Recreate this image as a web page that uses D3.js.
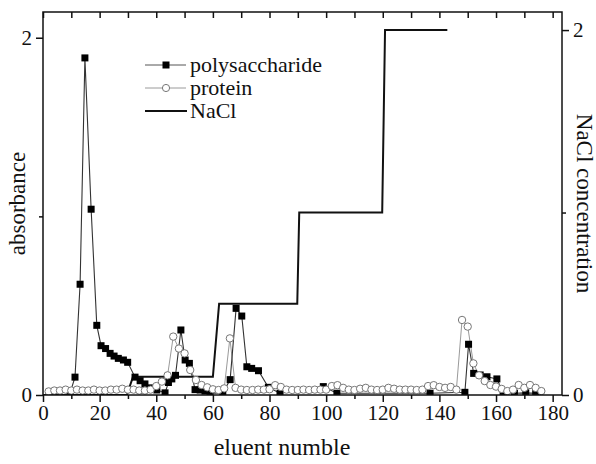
<!DOCTYPE html>
<html>
<head>
<meta charset="utf-8">
<script src="https://d3js.org/d3.v7.min.js"></script>
</head>
<body style="margin:0">
<div id="chart"></div>
<script>
// polysaccharide (filled squares), absorbance
const polyX = [9.5, 11.3, 13.1, 14.8, 17, 19, 20.5, 22.1, 23.7, 25.1, 26.6, 28.4, 29.9, 32.5, 34.3, 36, 37.8, 40.2, 43.1,
  44.3, 45.5, 46.8, 48.7, 50.2, 51.7, 53.7, 55.5, 57.2, 59, 63.5, 66.1, 68.2, 70.2, 72, 73.7, 76.1, 79.6, 83.7,
  99, 103.8, 136.7, 149, 150.3, 152.1, 154.4, 156.8, 160.3, 162.5, 166.5, 170.5, 174];
const polyY = [0.008, 0.10, 0.62, 1.887, 1.04, 0.39, 0.276, 0.26, 0.233, 0.218, 0.205, 0.196, 0.183, 0.10, 0.08, 0.062, 0.04, 0.028, 0.012,
  0.07, 0.09, 0.11, 0.364, 0.196, 0.177, 0.03, 0.028, 0.022, 0.01, 0.01, 0.086, 0.485, 0.442, 0.158, 0.149, 0.136, 0.043, 0.01,
  0.047, 0.01, 0.01, 0.015, 0.284, 0.121, 0.112, 0.102, 0.09, 0.015, 0.01, 0.012, 0.01];

// protein (open circles), absorbance
const protX = [2, 4, 6, 8, 10, 12, 14, 16, 18, 20, 22, 24, 26, 28, 30, 32, 34, 36, 38, 40, 42, 44, 46, 48, 50, 52, 54, 56, 58, 60,
  62, 64, 66, 68, 70, 72, 74, 76, 78, 80, 82, 84, 86, 88, 90, 92, 94, 96, 98, 100, 102, 104, 106, 108, 110, 112, 114, 116, 118, 120,
  122, 124, 126, 128, 130, 132, 134, 136, 138, 140, 142, 144, 146, 148, 150, 152, 154, 156, 158, 160, 162, 164, 166, 168, 170, 172, 174, 176];
const protY = [0.02, 0.025, 0.025, 0.03, 0.025, 0.03, 0.025, 0.025, 0.03, 0.025, 0.025, 0.03, 0.03, 0.035, 0.03, 0.03, 0.025, 0.025, 0.03, 0.05,
  0.075, 0.11, 0.327, 0.26, 0.233, 0.14, 0.084, 0.056, 0.043, 0.032, 0.028, 0.037, 0.317, 0.04, 0.03, 0.028, 0.028, 0.03, 0.03, 0.032,
  0.055, 0.045, 0.03, 0.028, 0.028, 0.03, 0.028, 0.03, 0.03, 0.03, 0.05, 0.055, 0.04, 0.03, 0.028, 0.035, 0.04, 0.03, 0.028, 0.03,
  0.04, 0.035, 0.03, 0.03, 0.03, 0.028, 0.03, 0.05, 0.055, 0.045, 0.04, 0.045, 0.03, 0.42, 0.383, 0.177, 0.11, 0.078, 0.056, 0.047,
  0.034, 0.022, 0.03, 0.056, 0.04, 0.056, 0.04, 0.022];

// NaCl gradient, right axis
const naclX = [0, 29.6, 31.8, 60, 62.2, 89.8, 90.5, 119.8, 120.8, 142.8];
const naclY = [0, 0, 0.1, 0.1, 0.5, 0.5, 1.0, 1.0, 2.0, 2.0];

const xTicks = [0, 20, 40, 60, 80, 100, 120, 140, 160, 180];
const xMinorTicks = [10, 30, 50, 70, 90, 110, 130, 150, 170];
const yTicks = [0, 2];
const yMinorTicks = [1];

const FONT = 'Liberation Serif';

const width = 596, height = 464;
const mLeft = 43, mRight = 562, mTop = 12, mBottom = 395;

const x = d3.scaleLinear().domain([0, 183.3]).range([mLeft, mRight]);
const yL = d3.scaleLinear().domain([0, 2.144]).range([mBottom, mTop]);
const yR = d3.scaleLinear().domain([0, 2.099]).range([mBottom, mTop]);

const svg = d3.select('#chart').append('svg')
  .attr('width', width).attr('height', height)
  .attr('font-family', FONT);

svg.append('clipPath').attr('id', 'clip')
  .append('rect').attr('x', mLeft).attr('y', mTop)
  .attr('width', mRight - mLeft).attr('height', mBottom - mTop);

const plot = svg.append('g').attr('clip-path', 'url(#clip)');

const poly = polyX.map((d, i) => ({x: d, y: polyY[i]}));
const prot = protX.map((d, i) => ({x: d, y: protY[i]}));
const nacl = naclX.map((d, i) => ({x: d, y: naclY[i]}));

// lines
plot.append('path').datum(prot)
  .attr('fill', 'none').attr('stroke', '#9a9a9a').attr('stroke-width', 1)
  .attr('d', d3.line().x(d => x(d.x)).y(d => yL(d.y)));

plot.append('path').datum(poly)
  .attr('fill', 'none').attr('stroke', '#333').attr('stroke-width', 1.1)
  .attr('d', d3.line().x(d => x(d.x)).y(d => yL(d.y)));

plot.append('path').datum(nacl)
  .attr('fill', 'none').attr('stroke', '#111').attr('stroke-width', 2)
  .attr('d', d3.line().x(d => x(d.x)).y(d => yR(d.y)));

// markers
plot.selectAll('.sq').data(poly).enter().append('rect')
  .attr('class', 'sq')
  .attr('x', d => x(d.x) - 3.5).attr('y', d => yL(d.y) - 3.5)
  .attr('width', 7).attr('height', 7)
  .attr('fill', '#000');

plot.selectAll('.ci').data(prot).enter().append('circle')
  .attr('class', 'ci')
  .attr('cx', d => x(d.x)).attr('cy', d => yL(d.y))
  .attr('r', 3.7)
  .attr('fill', '#fff').attr('stroke', '#777').attr('stroke-width', 1);

// axes
function styleAxis(g) {
  g.attr('font-family', FONT).attr('font-size', 21);
  g.select('.domain').remove();
  g.selectAll('line').attr('stroke', '#111').attr('stroke-width', 1.5);
  g.selectAll('text').attr('font-family', FONT).attr('font-size', 21).attr('fill', '#111');
}

const fmt = d3.format('d');

svg.append('g').attr('transform', `translate(0,${mBottom})`)
  .call(d3.axisBottom(x).tickValues(xTicks).tickSize(7).tickPadding(3).tickFormat(fmt))
  .call(styleAxis);
svg.append('g').attr('transform', `translate(0,${mBottom})`)
  .call(d3.axisBottom(x).tickValues(xMinorTicks).tickSize(4).tickFormat(''))
  .call(styleAxis);
svg.append('g').attr('transform', `translate(0,${mTop})`)
  .call(d3.axisTop(x).tickValues(xTicks.concat(xMinorTicks)).tickSize(-6).tickFormat(''))
  .call(styleAxis);

svg.append('g').attr('transform', `translate(${mLeft},0)`)
  .call(d3.axisLeft(yL).tickValues(yTicks).tickSize(7).tickPadding(4).tickFormat(fmt))
  .call(styleAxis);
svg.append('g').attr('transform', `translate(${mLeft},0)`)
  .call(d3.axisLeft(yL).tickValues(yMinorTicks).tickSize(4).tickFormat(''))
  .call(styleAxis);

svg.append('g').attr('transform', `translate(${mRight},0)`)
  .call(d3.axisRight(yR).tickValues(yTicks).tickSize(7).tickPadding(4).tickFormat(fmt))
  .call(styleAxis);
svg.append('g').attr('transform', `translate(${mRight},0)`)
  .call(d3.axisRight(yR).tickValues(yMinorTicks).tickSize(4).tickFormat(''))
  .call(styleAxis);

// frame
svg.append('rect')
  .attr('x', mLeft).attr('y', mTop)
  .attr('width', mRight - mLeft).attr('height', mBottom - mTop)
  .attr('fill', 'none').attr('stroke', '#111').attr('stroke-width', 1.5);

// titles
svg.append('text').attr('x', 282).attr('y', 455)
  .attr('text-anchor', 'middle').attr('font-family', FONT).attr('font-size', 24).attr('fill', '#111')
  .text('eluent numble');

svg.append('text')
  .attr('transform', `translate(25,${(mTop + mBottom) / 2}) rotate(-90)`)
  .attr('text-anchor', 'middle').attr('font-family', FONT).attr('font-size', 23).attr('fill', '#111')
  .text('absorbance');

svg.append('text')
  .attr('transform', `translate(577,${(mTop + mBottom) / 2}) rotate(90)`)
  .attr('text-anchor', 'middle').attr('font-family', FONT).attr('font-size', 23).attr('fill', '#111')
  .text('NaCl concentration');

// legend
const legend = svg.append('g');
const legendItems = ['polysaccharide', 'protein', 'NaCl'];
const legendY = [65, 88, 111];

legendItems.forEach((name, i) => {
  const g = legend.append('g').attr('transform', `translate(0,${legendY[i]})`);
  if (i < 2) {
    g.append('line').attr('x1', 145).attr('x2', 186)
      .attr('stroke', i === 0 ? '#555' : '#9a9a9a').attr('stroke-width', 1);
  } else {
    g.append('line').attr('x1', 145).attr('x2', 187)
      .attr('stroke', '#111').attr('stroke-width', 2);
  }
  if (i === 0) {
    g.append('rect').attr('x', 162.5).attr('y', -3.5).attr('width', 7).attr('height', 7).attr('fill', '#000');
  } else if (i === 1) {
    g.append('circle').attr('cx', 166).attr('cy', 0).attr('r', 3.6)
      .attr('fill', '#fff').attr('stroke', '#777');
  }
  g.append('text').attr('x', 190).attr('y', 0).attr('dy', '0.32em')
    .attr('font-family', FONT).attr('font-size', 22).attr('fill', '#111').text(name);
});
</script>
</body>
</html>
